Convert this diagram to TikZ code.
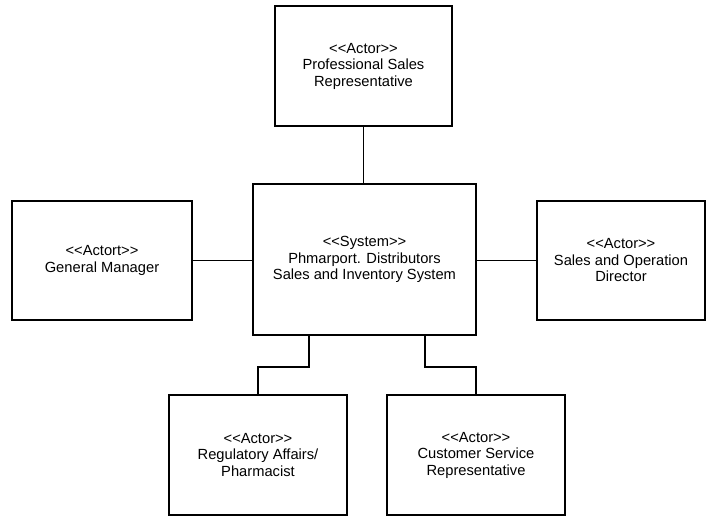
\documentclass[tikz,border=0pt]{standalone}
\usepackage{fontspec}
\setmainfont{Liberation Sans}
\usetikzlibrary{positioning}
\newcommand{\stereo}[1]{<\kern0pt<#1>\kern0pt>}

\begin{document}
\begin{tikzpicture}[node distance=193.5pt, auto]
    \tikzstyle{actor} = [rectangle, minimum width=178pt, minimum height=120pt, text centered, align=center, draw=black, line width=1.6pt, font=\fontsize{14.7pt}{16.5pt}\selectfont]
    \tikzstyle{link} = [line width=1.6pt]

    \useasboundingbox (-364.5pt,-256.5pt) rectangle (341.5pt,259.5pt);

    \node (system) [actor, minimum width=223pt, minimum height=151pt] {\stereo{System}\\Phmarport. Distributors\\Sales and Inventory System};
    \node (salesrep) [actor, above of=system, xshift=-1pt, minimum width=177pt] {\stereo{Actor}\\Professional Sales\\Representative};
    \node (manager) [actor, node distance=262.5pt, left of=system, yshift=-1pt, minimum width=180pt, minimum height=119pt] {\stereo{Actort}\\General Manager};
    \node (director) [actor, node distance=256.5pt, right of=system, yshift=-1pt, minimum width=168pt, minimum height=119pt] {\stereo{Actor}\\Sales and Operation\\Director};
    \node (regulatory) [actor, node distance=195.5pt, below of=system, xshift=-106.5pt] {\stereo{Actor}\\Regulatory Affairs/\\Pharmacist};
    \node (service) [actor, node distance=195.5pt, below of=system, xshift=111.5pt] {\stereo{Actor}\\Customer Service\\Representative};

    \draw [link] (salesrep.south) -- (salesrep.south |- system.north);
    \draw [link] (manager.east) -- (manager.east -| system.west);
    \draw [link] (system.east |- director.west) -- (director.west);
    \draw [link] ([xshift=-55.5pt]system.south) -- ++(0,-31pt) -| (regulatory.north);
    \draw [link] ([xshift=60.5pt]system.south) -- ++(0,-31pt) -| (service.north);
\end{tikzpicture}
\end{document}
